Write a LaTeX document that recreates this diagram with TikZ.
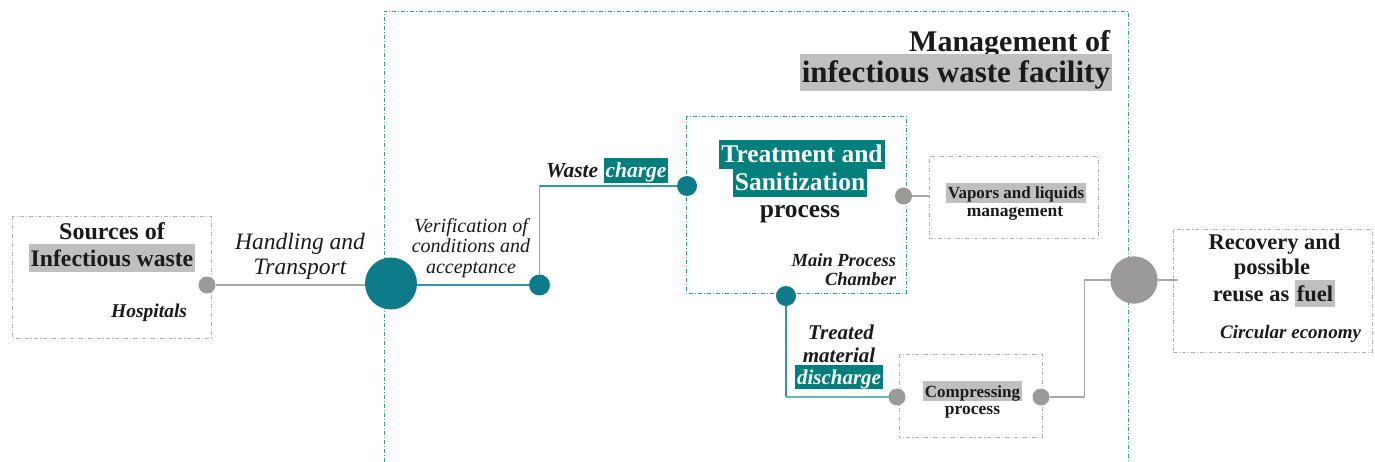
\documentclass[tikz,border=0pt]{standalone}
\usepackage{fontspec}
\setmainfont{Liberation Serif}
\definecolor{tealdot}{HTML}{0E7B8B}
\definecolor{tealhl}{HTML}{007F7D}
\definecolor{framec}{HTML}{2E9CAA}
\definecolor{tline}{HTML}{2C97A5}
\definecolor{tlinel}{HTML}{6AB4BE}
\definecolor{gdot}{HTML}{9C9A98}
\definecolor{ghl}{HTML}{BFBFBF}
\definecolor{gframe}{HTML}{B4B4B4}
\definecolor{gline}{HTML}{A6A6A6}
\definecolor{ink}{HTML}{1A1A1A}
\newcommand\fs[1]{\fontsize{#1}{#1}\selectfont}
\newcommand\hlg[1]{{\setlength\fboxsep{0pt}\colorbox{ghl}{\hspace{2pt}\rule[-0.25em]{0pt}{1.17em}#1\hspace{2pt}}}}
\newcommand\hlt[1]{{\setlength\fboxsep{0pt}\colorbox{tealhl}{\hspace{2pt}\rule[-0.25em]{0pt}{1.17em}\color{white}#1\hspace{2pt}}}}
\tikzset{
  txt/.style={inner sep=0pt, outer sep=0pt, text=ink},
  gbox/.style={draw=gframe, line width=0.9pt, dash pattern=on 4pt off 2pt on 1pt off 2pt},
  tbox/.style={draw=framec, line width=0.9pt, dash pattern=on 4pt off 2pt on 1pt off 2pt},
  tdot/.style={circle, fill=tealdot, inner sep=0pt, outer sep=0pt},
  gdotst/.style={circle, fill=gdot, inner sep=0pt, outer sep=0pt},
  tcon/.style={draw=tline, line width=1.2pt},
  tconl/.style={draw=tlinel, line width=1.2pt},
  gcon/.style={draw=gline, line width=1.2pt},
}
\begin{document}
\begin{tikzpicture}[x=1pt,y=-1pt]
\useasboundingbox (0,0) rectangle (1375,462);
% facility frame
\draw[tbox] (384,462) -- (384,11) -- (1128,11) -- (1128,462);
% boxes
\draw[gbox] (12,216) rectangle (211,338);
\draw[tbox] (686,116) rectangle (906,293);
\node[gbox, minimum width=169pt, minimum height=82pt, anchor=north west, inner sep=0pt] (vap) at (929,156) {};
\draw[gbox] (899,354) rectangle (1042,437);
\node[gbox, minimum width=199pt, minimum height=123pt, anchor=north west, inner sep=0pt] (recov) at (1173,229) {};
% dots
\node[gdotst, minimum size=17pt] (dS) at (207,285) {};
\node[tdot, minimum size=52pt] (bigT) at (391,283.5) {};
\node[tdot, minimum size=21pt] (dV) at (539.5,285) {};
\node[tdot, minimum size=20pt] (dW) at (687,186) {};
\node[gdotst, minimum size=17pt] (dG) at (903.5,196) {};
\node[tdot, minimum size=20pt] (dB) at (786,296) {};
\node[gdotst, minimum size=17pt] (dC) at (897,397) {};
\node[gdotst, minimum size=17pt] (dR) at (1041,397) {};
\node[gdotst, minimum size=47pt] (bigG) at (1134,280) {};
\coordinate (cornR) at (1084.5,397);
% connectors
\draw[gcon] (dS) -- (dS -| bigT.west);
\draw[tcon] (bigT.east |- dV) -- (dV);
\draw[tconl] (dV) |- (dW);
\draw[tcon] (dW.west) -- (dW.west -| dV);
\draw[gcon] (dG) -- (dG -| vap.west);
\draw[tcon] (dB) -- (dB |- dC);
\draw[tconl] (dB |- dC) -- (dC);
\draw[gcon] (dR) -- (cornR) |- (bigG);
\draw[gcon] (bigG) -- ([xshift=5pt]bigG -| recov.west);
\node[gdotst, minimum size=47pt] at (bigG) {};
% texts
\node[txt, anchor=base east, font=\fs{30}\bfseries] (t1) at (1110,52) {Management of};
\node[txt, anchor=base east, font=\fs{31}\bfseries] (t2) at (1112,83) {\hlg{infectious waste facility}};
\node[txt, anchor=base, font=\fs{24}\bfseries] (s1) at (112,240) {Sources of};
\node[txt, anchor=base, font=\fs{23.7}\bfseries] (s2) at (112,266) {\hlg{Infectious waste}};
\node[txt, anchor=base east, font=\fs{19.5}\bfseries\itshape] (s3) at (187,317) {Hospitals};
\node[txt, anchor=base, font=\fs{23.5}\itshape] (h1) at (300,250) {Handling and};
\node[txt, anchor=base, font=\fs{23.5}\itshape] (h2) at (300,275) {Transport};
\node[txt, anchor=base, font=\fs{20}\itshape] (v1) at (471,233) {Verification of};
\node[txt, anchor=base, font=\fs{20}\itshape] (v2) at (471,253) {conditions and};
\node[txt, anchor=base, font=\fs{20}\itshape] (v3) at (471,273) {acceptance};
\node[txt, anchor=base west, font=\fs{21.5}\bfseries\itshape] (w1) at (546,178) {Waste \hlt{charge}};
\node[txt, anchor=base, font=\fs{25.5}\bfseries] (p1) at (802,163) {\hlt{Treatment and}};
\node[txt, anchor=base, font=\fs{25.5}\bfseries] (p2) at (800,191) {\hlt{Sanitization}};
\node[txt, anchor=base, font=\fs{25.5}\bfseries] (p3) at (800,218) {process};
\node[txt, anchor=base east, font=\fs{18.5}\bfseries\itshape] (m1) at (896,266) {Main Process};
\node[txt, anchor=base east, font=\fs{18.5}\bfseries\itshape] (m2) at (896,285) {Chamber};
\node[txt, anchor=base, font=\fs{17}\bfseries] (a1) at (1016,199) {\hlg{Vapors and liquids}};
\node[txt, anchor=base, font=\fs{17.5}\bfseries] (a2) at (1015,217) {management};
\node[txt, anchor=base, font=\fs{21}\bfseries\itshape] (d1) at (841,339) {Treated};
\node[txt, anchor=base, font=\fs{21}\bfseries\itshape] (d2) at (839,362) {material};
\node[txt, anchor=base, font=\fs{21}\bfseries\itshape] (d3) at (839,384) {\hlt{discharge}};
\node[txt, anchor=base, font=\fs{17}\bfseries] (c1) at (972.5,397) {\hlg{Compressing}};
\node[txt, anchor=base, font=\fs{17.5}\bfseries] (c2) at (972.5,414) {process};
\node[txt, anchor=base, font=\fs{22.5}\bfseries] (r1) at (1274.5,250) {Recovery and};
\node[txt, anchor=base, font=\fs{22.5}\bfseries] (r2) at (1272,275) {possible};
\node[txt, anchor=base, font=\fs{22.5}\bfseries] (r3) at (1274,301) {reuse as \hlg{fuel}};
\node[txt, anchor=base east, font=\fs{19}\bfseries\itshape] (r4) at (1361,338) {Circular economy};
\end{tikzpicture}
\end{document}
